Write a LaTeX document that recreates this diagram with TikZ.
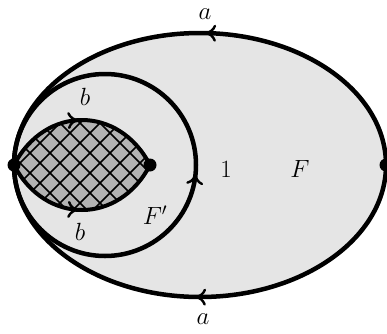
\documentclass[tikz,border=0pt]{standalone}
\usetikzlibrary{arrows.meta,decorations.markings}
\begin{document}
\begin{tikzpicture}[x=1pt,y=1pt,
  cmtip/.tip={Computer Modern Rightarrow[length=11pt,width=17pt,line width=2.4pt]},
  edge/.style={line width=4.5pt},
  lensedge/.style={line width=4pt},
  midarrow/.style={postaction={decorate},decoration={markings,mark=at position #1 with {\arrow{cmtip}}}},
  dot/.style={circle,fill=black,inner sep=0pt,minimum size=13pt},
  lbl/.style={inner sep=0pt,font=\fontsize{27}{30}\selectfont},
  hatch/.style={line width=1.6pt}]
\useasboundingbox (0,0) rectangle (387,333);
\definecolor{bg}{HTML}{E5E5E5}
\definecolor{lensfill}{HTML}{B3B3B3}
% coordinates
\coordinate (L) at (14,168);
\coordinate (R) at (386,168);
\coordinate (M) at (150,168);
% big ellipse fill
\fill[bg] (200,168) ellipse[x radius=186,y radius=132];
% lens fill + hatch
\begin{scope}
  \clip (L) .. controls (45,228) and (119,228) .. (M) .. controls (119,108) and (45,108) .. (L) -- cycle;
  \fill[lensfill] (0,100) rectangle (170,240);
  \foreach \i in {-160,-140,...,180} {
    \draw[hatch] (\i,90) -- ++(160,160);
    \draw[hatch] (\i,250) -- ++(160,-160);
  }
\end{scope}
% ellipse edges
\draw[edge,midarrow=0.49] (R) arc[start angle=0,end angle=180,x radius=186,y radius=132];
\draw[edge,midarrow=0.51] (R) arc[start angle=0,end angle=-180,x radius=186,y radius=132];
% circle
\draw[edge,midarrow=0.485] (L) arc[start angle=180,end angle=540,radius=91];
% lens edges
\draw[lensedge,midarrow=0.48] (L) .. controls (45,228) and (119,228) .. (M);
\draw[lensedge,midarrow=0.48] (L) .. controls (45,108) and (119,108) .. (M);
% dots
\node[dot] (dL) at (L) {};
\node[dot] (dM) at (M) {};
\node[dot] (dR) at (R) {};
% labels
\node[lbl] (a1) at (205,319) {$a$};
\node[lbl] (a2) at (203,14) {$a$};
\node[lbl] (b1) at (85,236) {$b$};
\node[lbl] (b2) at (80,101) {$b$};
\node[lbl] (Fp) at (155,118) {$F'$};
\node[lbl] (one) at (226,164) {$1$};
\node[lbl] (F) at (300,164) {$F$};
\end{tikzpicture}
\end{document}
